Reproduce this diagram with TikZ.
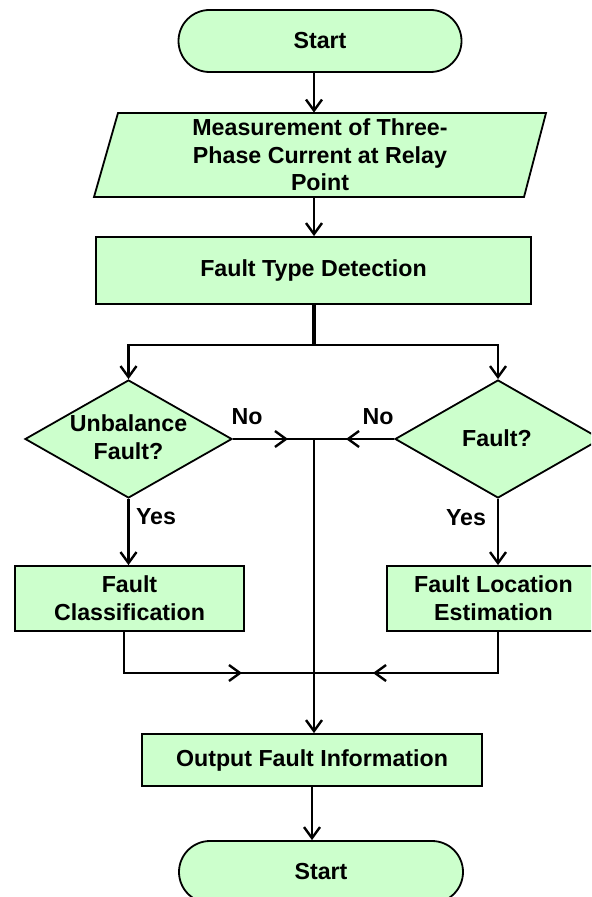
\documentclass[tikz,border=0pt]{standalone}
\usepackage{fontspec}
\setmainfont{Liberation Sans}
\usetikzlibrary{shapes.geometric,arrows.meta}
\definecolor{boxgreen}{HTML}{CCFFCC}
\begin{document}
\begin{tikzpicture}[x=0.5pt,y=-0.5pt,
  font=\fontsize{11.6}{13.8}\selectfont\bfseries,
  shapebox/.style={draw, line width=0.9pt, fill=boxgreen, inner sep=0pt, align=center},
  procbox/.style={shapebox, rectangle},
  pill/.style={shapebox, rectangle, rounded corners=15.5pt},
  decision/.style={shapebox, diamond},
  line/.style={line width=1.2pt},
  arrow/.style={line, -{Straight Barb[length=5.5pt,width=8pt]}},
  txt/.style={inner sep=0pt, align=center}]
\useasboundingbox (0,0) rectangle (591,897);
\clip (0,0) rectangle (591,897);

% nodes
\node[pill, minimum width=141.5pt, minimum height=31pt] (start) at (320,41) {Start};
\filldraw[draw=black, fill=boxgreen, line width=0.9pt] (118,113) -- (546,113) -- (524,197) -- (94,197) -- cycle;
\node[txt, minimum height=42pt] (meas) at (320,155) {Measurement of Three-\\Phase Current at Relay\\Point};
\node[procbox, minimum width=217.5pt, minimum height=33.5pt] (ftd) at (313.5,270.5) {Fault Type Detection};
\coordinate (j1) at (314,345);
\node[decision, minimum width=103.5pt, minimum height=59pt] (ud) at (128.5,439) {};
\node[txt] (udt) at (128.5,437.5) {Unbalance\\Fault?};
\node[decision, minimum width=103pt, minimum height=59pt] (fd) at (498,439) {};
\node[txt] (fdt) at (497,438) {Fault?};
\node[procbox, minimum width=114.5pt, minimum height=32.5pt] (cls) at (129.5,598.5) {Fault\\Classification};
\node[procbox, minimum width=106.5pt, minimum height=32.5pt] (fle) at (493.5,598.5) {Fault Location\\Estimation};
\node[procbox, minimum width=170pt, minimum height=26pt] (out) at (312,760) {Output Fault Information};
\node[pill, minimum width=142pt, minimum height=31pt] (end) at (321,872) {Start};

\coordinate (m1) at (314,439);
\coordinate (m2) at (314,673);
\coordinate (a1) at (288,439);
\coordinate (a2) at (346,439);
\coordinate (a3) at (242,673);
\coordinate (a4) at (373,673);

% labels
\node[txt] (no1) at (247,417) {No};
\node[txt] (no2) at (378,417) {No};
\node[txt] (yes1) at (156,517) {Yes};
\node[txt] (yes2) at (466,518) {Yes};

% connectors
\draw[arrow] (start.south -| m1) -- (meas.north -| m1);
\draw[arrow] (meas.south -| m1) -- (ftd.north -| m1);
\draw[line, line width=1.6pt] (ftd.south -| j1) -- (j1);
\draw[arrow] (j1) -| (ud.north);
\draw[arrow] (j1) -| (fd.north);
\draw[line] (ud.east) -- (m1);
\draw[arrow] (ud.east) -- (a1);
\draw[line] (fd.west) -- (m1);
\draw[arrow] (fd.west) -- (a2);
\draw[arrow] (ud.south) -- (ud.south |- cls.north);
\draw[arrow] (fd.south) -- (fd.south |- fle.north);
\draw[line] ([xshift=-2.75pt]cls.south) |- (m2);
\draw[arrow] ([xshift=-2.75pt]cls.south) |- (a3);
\draw[line] ([xshift=2.25pt]fle.south) |- (m2);
\draw[arrow] ([xshift=2.25pt]fle.south) |- (a4);
\draw[arrow] (m1) -- (m1 |- out.north);
\draw[arrow] (out.south) -- (out.south |- end.north);
\end{tikzpicture}
\end{document}
